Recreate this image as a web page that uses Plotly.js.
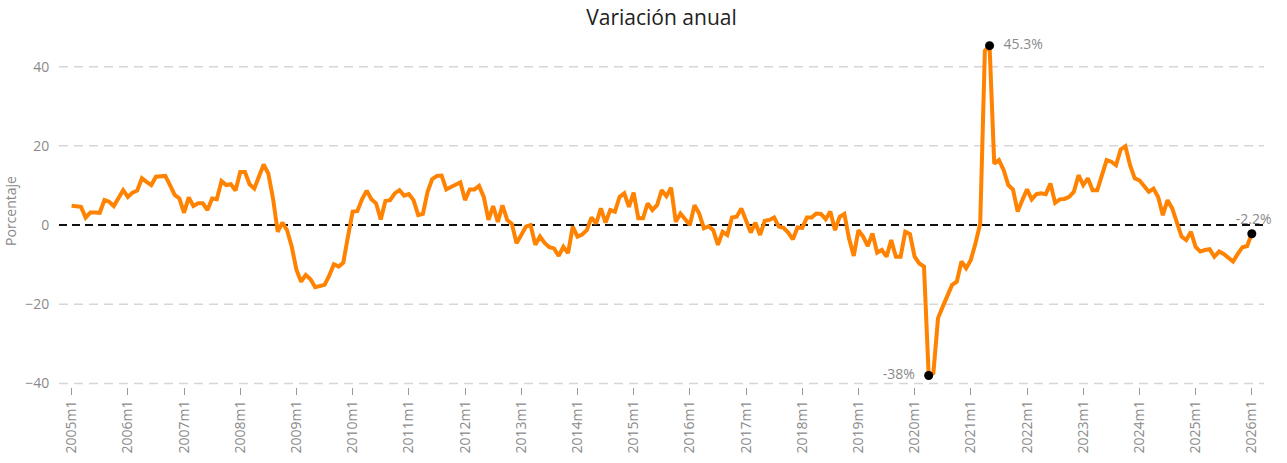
<!DOCTYPE html>
<html>
<head>
<meta charset="utf-8">
<script src="https://cdn.plot.ly/plotly-3.0.1.min.js"></script>
<style>html,body{margin:0;padding:0;background:#fff;}#chart{width:1287px;height:463px;}</style>
</head>
<body>
<div id="chart"></div>
<script>
// Annual variation (%), monthly from 2005m1
const startYear = 2005;
const values = [
  4.9, 4.8, 4.6, 1.9, 3.2, 3.2, 3.1, 6.3, 5.9, 4.8, 6.7, 8.8,
  7.1, 8.2, 8.7, 11.8, 10.9, 10.1, 12.2, 12.4, 12.4, 10.1, 7.6, 6.7,
  3.1, 7.0, 4.8, 5.5, 5.5, 3.8, 6.7, 6.5, 11.1, 10.1, 10.3, 8.7,
  13.4, 13.4, 10.3, 9.2, 12.2, 15.3, 13.0, 6.7, -1.7, 0.6, -1.3, -5.5,
  -11.3, -14.3, -12.6, -13.7, -15.7, -15.4, -15.1, -12.8, -9.9, -10.5, -9.5, -2.9,
  3.4, 3.5, 6.5, 8.7, 6.5, 5.5, 1.4, 6.1, 6.3, 8.0, 8.8, 7.4,
  7.8, 6.3, 2.5, 2.8, 8.4, 11.6, 12.4, 12.5, 9.0, 9.6, 10.1, 10.8,
  6.3, 9.0, 9.0, 9.9, 7.1, 1.3, 4.8, 0.8, 5.0, 1.3, 0.3, -4.6,
  -2.5, -0.4, 0.0, -5.0, -2.9, -4.5, -5.6, -5.9, -7.8, -5.5, -7.1, -0.4,
  -2.9, -2.4, -1.3, 1.9, 0.4, 4.2, 0.6, 3.8, 3.4, 7.1, 8.0, 4.6,
  8.2, 1.7, 1.7, 5.5, 3.8, 5.0, 8.8, 7.3, 9.4, 0.8, 2.9, 1.4,
  0.0, 5.0, 2.9, -0.8, -0.3, -1.3, -5.0, -1.7, -2.5, 1.9, 2.1, 4.2,
  1.4, -1.9, 0.6, -2.5, 1.1, 1.3, 1.9, -0.4, -0.7, -1.9, -3.6, -0.6,
  -0.7, 1.9, 1.9, 2.9, 2.8, 1.5, 3.4, -1.3, 2.1, 2.8, -3.4, -7.8,
  -1.3, -2.9, -5.3, -2.1, -7.0, -6.3, -8.0, -3.8, -8.0, -8.0, -1.7, -2.3,
  -8.0, -9.7, -10.5, -38.0, -37.4, -23.5, -20.6, -18.1, -15.1, -14.3, -9.2, -10.9,
  -8.8, -4.6, 0.4, 44.0, 45.3, 15.5, 16.4, 13.9, 10.1, 9.0, 3.4, 6.3,
  9.0, 6.5, 7.8, 8.0, 7.8, 10.5, 5.6, 6.5, 6.6, 7.1, 8.4, 12.6,
  10.1, 11.8, 8.8, 8.8, 13.0, 16.4, 16.0, 15.1, 19.1, 19.9, 15.1, 11.8,
  11.3, 9.8, 8.4, 9.2, 7.1, 2.5, 6.3, 4.2, 0.8, -2.9, -3.8, -1.7,
  -5.5, -6.7, -6.3, -6.1, -8.0, -6.7, -7.3, -8.4, -9.2, -7.3, -5.6, -5.3,
  -2.2
];
const categories = values.map((_, i) => (startYear + Math.floor(i / 12)) + 'm' + (i % 12 + 1));
const tickLabels = categories.filter((_, i) => i % 12 === 0);
const yTicks = [-40, -20, 0, 20, 40];

// Highlighted points: maximum, minimum, last
const iMin = values.indexOf(Math.min(...values));
const iMax = values.indexOf(Math.max(...values));
const iLast = values.length - 1;
const hiIdx = [iMax, iMin, iLast];
const hiPos = ['middle right', 'middle left', 'top center'];
const nb = '\u00a0';
const hiText = [nb + nb + values[iMax] + '%', values[iMin] + '%' + nb + nb, nb + values[iLast] + '%'];

const grey = '#8a8a8a';
const font = 'Open Sans, Noto Sans, sans-serif';

const traces = [
  {
    x: categories, y: values, type: 'scatter', mode: 'lines',
    line: {color: '#ff8200', width: 4}, hoverinfo: 'x+y', showlegend: false
  },
  {
    x: hiIdx.map(i => categories[i]), y: hiIdx.map(i => values[i]),
    type: 'scatter', mode: 'markers+text',
    marker: {color: '#000', size: 9},
    text: hiText,
    textposition: hiPos,
    textfont: {family: font, size: 14, color: grey},
    showlegend: false, cliponaxis: false
  }
];

// Dashed horizontal gridlines (grey) and dashed zero line (black), drawn under the trace
const gridShapes = yTicks.map(v => ({
  type: 'line', xref: 'paper', x0: 0, x1: 1, yref: 'y', y0: v, y1: v, layer: 'below',
  line: v === 0 ? {color: '#111', width: 2, dash: '8px,5px'}
               : {color: '#d6d6d6', width: 1.5, dash: '9px,6px'}
}));

const layout = {
  width: 1287, height: 463,
  margin: {l: 59, r: 23, t: 35, b: 76},
  paper_bgcolor: '#fff', plot_bgcolor: '#fff',
  font: {family: font, color: grey},
  title: {text: 'Variación anual', font: {family: font, size: 21, color: '#222'},
          x: 0.5, xref: 'paper', y: 0.962, yref: 'container', yanchor: 'middle'},
  xaxis: {
    type: 'category', categoryorder: 'trace',
    tickmode: 'array', tickvals: tickLabels, ticktext: tickLabels,
    tickangle: -90, ticks: 'outside', ticklen: 7, tickcolor: '#9a9a9a', tickwidth: 1,
    tickfont: {family: font, size: 14, color: grey},
    showgrid: false, zeroline: false, showline: false,
    range: [-2.7, values.length - 1 + 2.6]
  },
  yaxis: {
    range: [-40.9, 48], tickmode: 'array', tickvals: yTicks,
    showgrid: false, zeroline: false, showline: false,
    ticks: 'outside', ticklen: 6, tickcolor: 'rgba(0,0,0,0)',
    tickfont: {family: font, size: 14, color: grey},
    title: {text: 'Porcentaje', font: {family: font, size: 14, color: grey}, standoff: 5}
  },
  shapes: gridShapes
};

Plotly.newPlot('chart', traces, layout, {displayModeBar: false, staticPlot: true});
</script>
</body>
</html>
